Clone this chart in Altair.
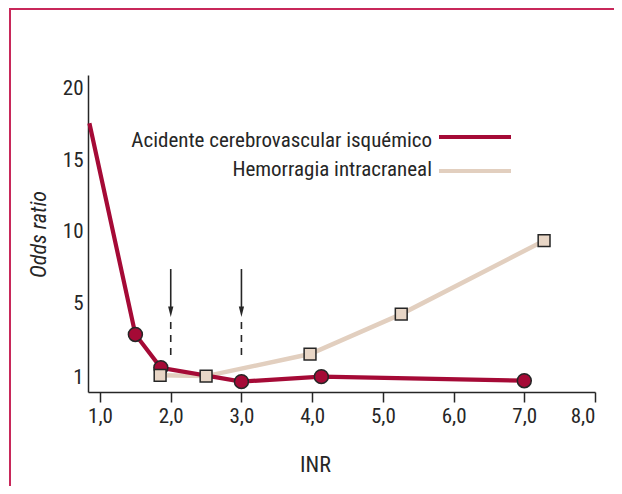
import altair as alt
import pandas as pd

# ---- data ----
isch_inr = [0.85, 1.5, 1.86, 3.0, 4.13, 7.0]
isch_or = [17.6, 3.3, 1.5, 0.75, 1.02, 0.8]
isch_marker = [False, True, True, True, True, True]

hem_inr = [1.85, 2.5, 3.97, 5.26, 7.28]
hem_or = [1.09, 1.05, 2.24, 4.4, 9.37]

arrow_inr = [2.0, 3.0]
arrow_shaft_top = [7.38, 7.38]
arrow_shaft_bottom = [4.7, 4.7]
arrow_head = [4.53, 4.53]
arrow_dash_top = [3.97, 3.97]
arrow_dash_bottom = [2.14, 2.14]

x_ticks = [1, 2, 3, 4, 5, 6, 7, 8]
y_ticks = [1, 5, 10, 15, 20]
legend_labels = ["Acidente cerebrovascular isquémico", "Hemorragia intracraneal"]

# ---- styles ----
RED = "#a50a36"
BEIGE_LINE = "#e2cfbf"
BEIGE_FILL = "#e8d6c6"
INK = "#262626"
FRAME = "#c8285a"
FONT = "Roboto Condensed, Liberation Sans Narrow, DejaVu Sans Condensed, sans-serif"

W, H = 507, 317

isch = pd.DataFrame({"inr": isch_inr, "or": isch_or, "marker": isch_marker})
hem = pd.DataFrame({"inr": hem_inr, "or": hem_or})
arrows = pd.DataFrame({
    "inr": arrow_inr,
    "top": arrow_shaft_top,
    "bottom": arrow_shaft_bottom,
    "head": arrow_head,
    "dtop": arrow_dash_top,
    "dbottom": arrow_dash_bottom,
})
one = pd.DataFrame({"k": [0]})

xs = alt.Scale(domain=[0.83, 8.0], nice=False, zero=False)
ys = alt.Scale(domain=[0.19, 5, 20.98], range=[H, 228, 0], nice=False, zero=False)

x_axis = alt.Axis(
    values=x_ticks,
    labelExpr="replace(format(datum.value, '.1f'), '.', ',')",
    title="INR",
    titleX=227,
    titleY=72,
    titleAlign="center",
    titleBaseline="middle",
    tickSize=10,
    labelPadding=3,
    grid=False,
)
y_axis = alt.Axis(
    values=y_ticks,
    title="Odds ratio",
    titleFontStyle="italic",
    titleX=-50,
    titleY=159,
    titleAngle=270,
    titleAlign="center",
    titleBaseline="middle",
    ticks=False,
    tickSize=0,
    labelPadding=5,
    grid=False,
)


def X(field):
    return alt.X(f"{field}:Q", scale=xs, axis=x_axis)


def Y(field):
    return alt.Y(f"{field}:Q", scale=ys, axis=y_axis)


hem_line = alt.Chart(hem).mark_line(color=BEIGE_LINE, strokeWidth=4.5).encode(x=X("inr"), y=Y("or"))
isch_line = alt.Chart(isch).mark_line(color=RED, strokeWidth=4.2).encode(x=X("inr"), y=Y("or"))
isch_pts = alt.Chart(isch).transform_filter("datum.marker").mark_point(
    shape="circle", filled=True, size=195, color=RED, stroke=INK, strokeWidth=1.5, opacity=1
).encode(x=X("inr"), y=Y("or"))
hem_pts = alt.Chart(hem).mark_point(
    shape="square", filled=True, size=140, color=BEIGE_FILL, stroke=INK, strokeWidth=1.5, opacity=1
).encode(x=X("inr"), y=Y("or"))

shaft = alt.Chart(arrows).mark_rule(color=INK, strokeWidth=1.6).encode(
    x=X("inr"), y=Y("top"), y2="bottom"
)
head = alt.Chart(arrows).mark_point(
    shape="M-0.5,-1L0.5,-1L0,1Z", filled=True, size=110, color=INK, opacity=1
).encode(x=X("inr"), y=Y("head"))
dash = alt.Chart(arrows).mark_rule(color=INK, strokeWidth=1.6, strokeDash=[7, 6]).encode(
    x=X("inr"), y=Y("dtop"), y2="dbottom"
)

leg_t1 = alt.Chart(one).mark_text(
    align="right", baseline="middle", font=FONT, fontSize=21, color=INK
).encode(x=alt.value(344), y=alt.value(66), text=alt.value(legend_labels[0]))
leg_t2 = alt.Chart(one).mark_text(
    align="right", baseline="middle", font=FONT, fontSize=21, color=INK
).encode(x=alt.value(344), y=alt.value(95), text=alt.value(legend_labels[1]))
leg_l1 = alt.Chart(one).mark_rule(color=RED, strokeWidth=4).encode(
    x=alt.value(351), x2=alt.value(423), y=alt.value(62)
)
leg_l2 = alt.Chart(one).mark_rule(color=BEIGE_LINE, strokeWidth=4).encode(
    x=alt.value(351), x2=alt.value(423), y=alt.value(96)
)

frame_top = alt.Chart(one).mark_rule(color=FRAME, strokeWidth=2).encode(
    x=alt.value(-79), x2=alt.value(530), y=alt.value(-66)
)
frame_left = alt.Chart(one).mark_rule(color=FRAME, strokeWidth=2).encode(
    x=alt.value(-78), y=alt.value(-67), y2=alt.value(411)
)

chart = alt.layer(
    frame_top, frame_left,
    hem_line, isch_line, isch_pts, hem_pts,
    shaft, head, dash,
    leg_t1, leg_t2, leg_l1, leg_l2,
).properties(
    width=W,
    height=H,
    padding={"left": 80, "top": 67, "right": 19, "bottom": 94},
    autosize=alt.AutoSizeParams(type="none"),
).configure_view(stroke=None).configure_axis(
    labelFont=FONT,
    labelFontSize=21,
    labelColor=INK,
    titleFont=FONT,
    titleFontSize=22,
    titleFontWeight="normal",
    titleColor=INK,
    domainColor=INK,
    domainWidth=1.5,
    tickColor=INK,
    tickWidth=1.5,
)

chart.save("out.html", embed_options={"renderer": "svg", "actions": False})
